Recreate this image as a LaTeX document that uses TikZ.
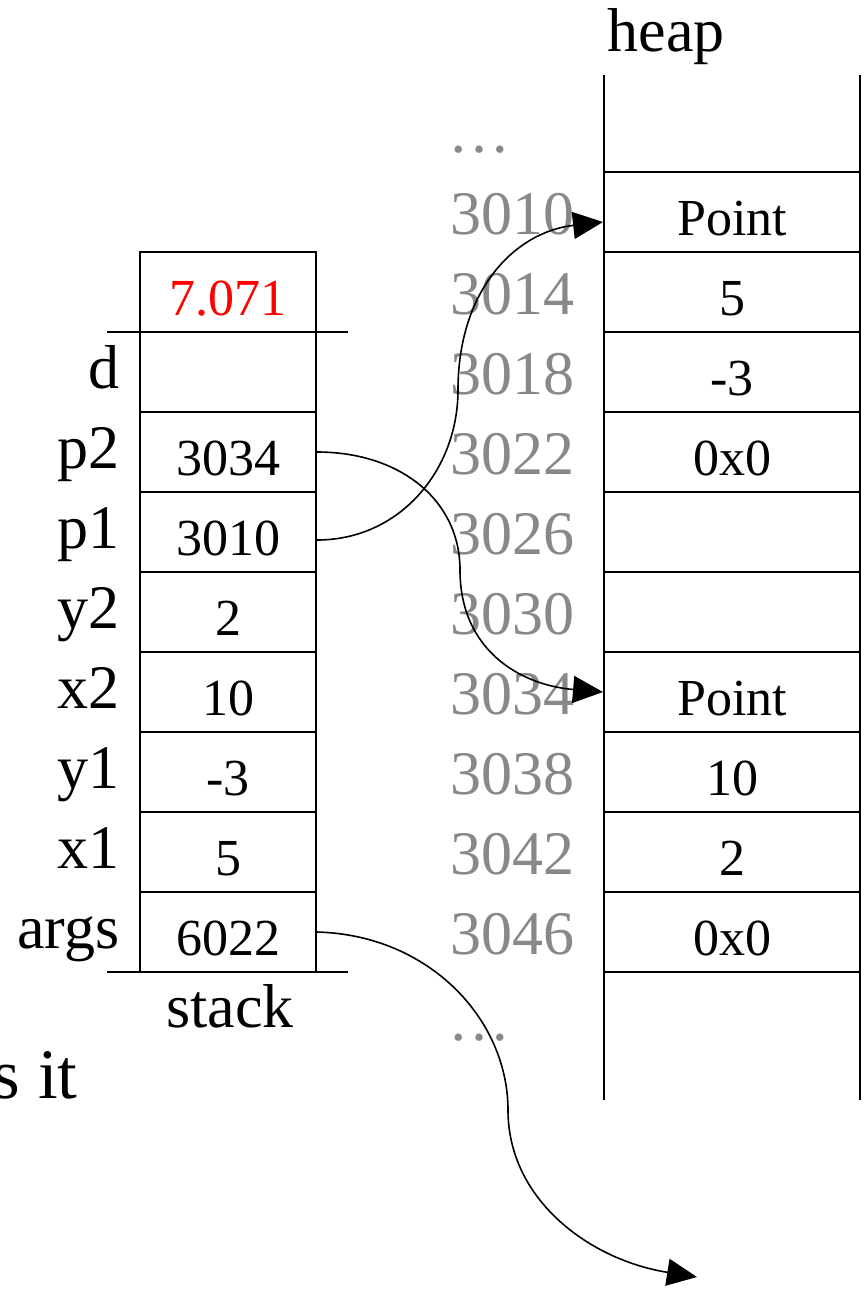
\documentclass[tikz,border=0pt]{standalone}
\usepackage{fontspec}
\setmainfont{Liberation Serif}
\usetikzlibrary{arrows.meta}
\definecolor{addrgray}{RGB}{136,136,136}
\begin{document}
\begin{tikzpicture}[x=0.5pt,y=-0.5pt,
  cellfont/.style={font=\fontsize{26}{30}\selectfont},
  bigfont/.style={font=\fontsize{31}{36}\selectfont},
  scell/.style={draw, line width=1pt, cellfont, minimum width=88pt, minimum height=40pt,
                inner sep=0pt, text height=23pt, text depth=0pt},
  hcell/.style={scell, minimum width=128pt},
  lbl/.style={bigfont, inner sep=0pt, anchor=base east},
  addr/.style={bigfont, text=addrgray, inner sep=0pt, anchor=base east},
  ptr/.style={line width=0.8pt, -{Triangle[length=15pt,width=13.5pt]}}]
\useasboundingbox (0,0) rectangle (866,1291);

% stack frame
\node[scell, text=red] (sres) at (228,292) {7.071};
\node[scell] (sd)    at (228,372) {};
\node[scell] (sp2)   at (228,452) {3034};
\node[scell] (sp1)   at (228,532) {3010};
\node[scell] (sy2)   at (228,612) {2};
\node[scell] (sx2)   at (228,692) {10};
\node[scell] (sy1)   at (228,772) {-3};
\node[scell] (sx1)   at (228,852) {5};
\node[scell] (sargs) at (228,932) {6022};
\draw[line width=1pt] (107,332) -- (348,332);
\draw[line width=1pt] (107,972) -- (348,972);

% variable names
\node[lbl] (nd)    at (120,388) {d};
\node[lbl] (np2)   at (120,468) {p2};
\node[lbl] (np1)   at (120,548) {p1};
\node[lbl] (ny2)   at (120,628) {y2};
\node[lbl] (nx2)   at (120,708) {x2};
\node[lbl] (ny1)   at (120,788) {y1};
\node[lbl] (nx1)   at (120,868) {x1};
\node[lbl] (nargs) at (120,948) {args};
\node[bigfont, inner sep=0pt, anchor=base] (stacklbl) at (230,1027) {stack};
\node[inner sep=0pt, anchor=base east, font=\fontsize{35.5}{40}\selectfont] (sit) at (78,1098) {s it};

% heap
\draw[line width=1pt] (604,75) -- (604,1100);
\draw[line width=1pt] (860,75) -- (860,1100);
\node[bigfont, inner sep=0pt, anchor=base] (heaplbl) at (666,51) {heap};
\node[hcell] (h3010) at (732,212) {Point};
\node[hcell] (h3014) at (732,292) {5};
\node[hcell] (h3018) at (732,372) {-3};
\node[hcell] (h3022) at (732,452) {0x0};
\node[hcell] (h3026) at (732,532) {};
\node[hcell] (h3030) at (732,612) {};
\node[hcell] (h3034) at (732,692) {Point};
\node[hcell] (h3038) at (732,772) {10};
\node[hcell] (h3042) at (732,852) {2};
\node[hcell] (h3046) at (732,932) {0x0};

% addresses
\node[addr, anchor=base] (dtop) at (479,152) {…};
\node[addr] (a3010) at (575,234) {3010};
\node[addr] (a3014) at (575,314) {3014};
\node[addr] (a3018) at (575,394) {3018};
\node[addr] (a3022) at (575,474) {3022};
\node[addr] (a3026) at (575,554) {3026};
\node[addr] (a3030) at (575,634) {3030};
\node[addr] (a3034) at (575,714) {3034};
\node[addr] (a3038) at (575,794) {3038};
\node[addr] (a3042) at (575,874) {3042};
\node[addr] (a3046) at (575,954) {3046};
\node[addr, anchor=base] (dbot) at (479,1040) {…};

% references
\draw[ptr] ([yshift=-4pt]sp1.east) .. controls (400,540) and (458,470) .. (458,390)
           .. controls (458,290) and (515,232) .. ([yshift=-5pt]h3010.west);
\draw[ptr] (sp2.east) .. controls (400,452) and (460,500) .. (460,570)
           .. controls (460,650) and (520,685) .. (h3034.west);
\coordinate (argsend) at (697,1277);
\draw[ptr] (sargs.east) .. controls (430,935) and (508,1020) .. (508,1110)
           .. controls (508,1200) and (590,1260) .. (argsend);
\end{tikzpicture}
\end{document}
